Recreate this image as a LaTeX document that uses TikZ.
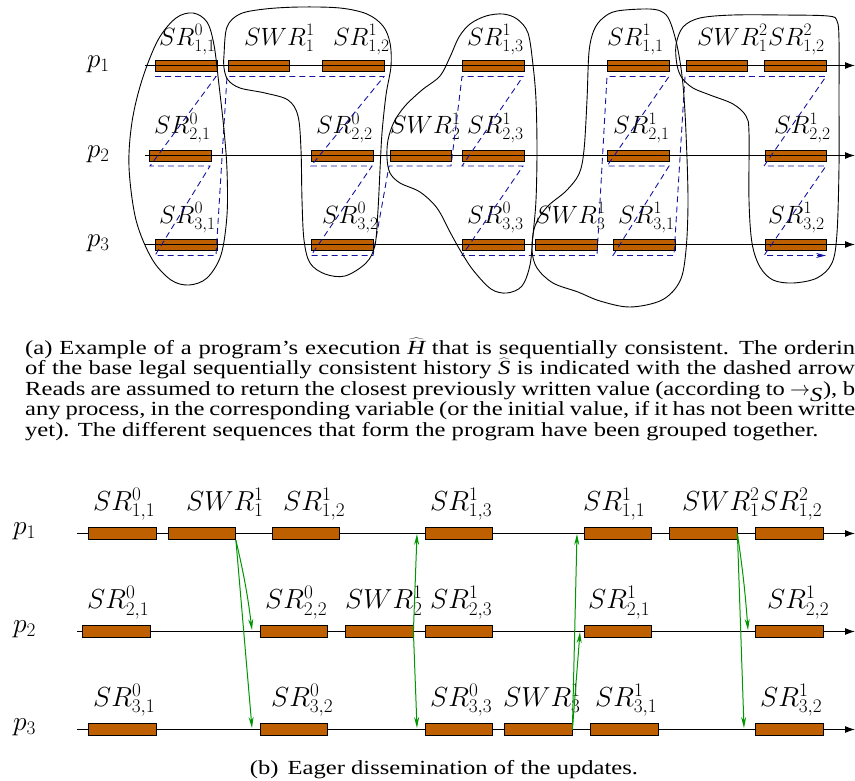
\RequirePackage{fix-cm}
\documentclass[tikz,border=0pt]{standalone}
\usepackage[no-math]{fontspec}
\setmainfont[FakeStretch=1.23]{Liberation Serif}
\usetikzlibrary{arrows.meta}
\definecolor{boxfill}{RGB}{191,96,0}
\definecolor{ordblue}{RGB}{20,20,160}
\definecolor{msggreen}{RGB}{0,150,0}
\begin{document}
\begin{tikzpicture}[x=1pt,y=-1pt,
  opbox/.style={draw=black, fill=boxfill, line width=0.9pt, inner sep=0pt, anchor=west, minimum height=11pt, minimum width=61.5pt},
  opboxb/.style={opbox, minimum height=12.5pt, minimum width=67.5pt},
  timeline/.style={line width=1.1pt, -{Latex[length=10pt,width=7pt]}},
  lbla/.style={anchor=base west, inner sep=0pt, font=\fontsize{25}{30}\selectfont},
  lblb/.style={anchor=base west, inner sep=0pt, font=\fontsize{27.5}{33}\selectfont},
  procl/.style={anchor=base west, inner sep=0pt, font=\fontsize{27}{32}\selectfont},
  order/.style={draw=ordblue, line width=0.9pt, dash pattern=on 6pt off 4pt, -{Stealth[length=10pt,width=5pt]}},
  blob/.style={draw=black, line width=0.9pt},
  msg/.style={draw=msggreen, line width=1pt, -{Stealth[length=11pt,width=5pt]}},
  capt/.style={anchor=base west, inner sep=0pt, font=\fontsize{20}{20.5}\selectfont}
]
\useasboundingbox (0,0) rectangle (855,780);

% ================= (a) =================
% boxes p1
\node[opbox] (a-1-1) at (155,65.5) {};
\node[opbox] (a-1-2) at (227.5,65.5) {};
\node[opbox] (a-1-3) at (322,65.5) {};
\node[opbox] (a-1-4) at (462,65.5) {};
\node[opbox] (a-1-5) at (607,65.5) {};
\node[opbox] (a-1-6) at (685.5,65.5) {};
\node[opbox] (a-1-7) at (764,65.5) {};
% boxes p2
\node[opbox] (a-2-1) at (149.3,155.5) {};
\node[opbox] (a-2-2) at (311,155.5) {};
\node[opbox] (a-2-3) at (389.5,155.5) {};
\node[opbox] (a-2-4) at (462,155.5) {};
\node[opbox] (a-2-5) at (607,155.5) {};
\node[opbox] (a-2-6) at (764.5,155.5) {};
% boxes p3
\node[opbox] (a-3-1) at (155,244.5) {};
\node[opbox] (a-3-2) at (311,244.5) {};
\node[opbox] (a-3-3) at (462,244.5) {};
\node[opbox] (a-3-4) at (535,244.5) {};
\node[opbox] (a-3-5) at (613,244.5) {};
\node[opbox] (a-3-6) at (764.5,244.5) {};

% timelines (drawn over the boxes)
\coordinate (ap1s) at (145,65.5); \coordinate (ap1e) at (855,65.5);
\coordinate (ap2s) at (145,155.5); \coordinate (ap2e) at (855,155.5);
\coordinate (ap3s) at (145,244.5); \coordinate (ap3e) at (855,244.5);
\draw[timeline] (ap1s) -- (ap1e);
\draw[timeline] (ap2s) -- (ap2e);
\draw[timeline] (ap3s) -- (ap3e);

% process labels
\node[procl] (ap1) at (87,67) {$p_1$};
\node[procl] (ap2) at (87,157) {$p_2$};
\node[procl] (ap3) at (87,246.5) {$p_3$};

% operation labels
\node[lbla] (la-1-1) at (159,45) {$SR^0_{1,1}$};
\node[lbla] (la-1-2) at (244,45) {$SWR^1_1$};
\node[lbla] (la-1-3) at (333,45) {$SR^1_{1,2}$};
\node[lbla] (la-1-4) at (467,45) {$SR^1_{1,3}$};
\node[lbla] (la-1-5) at (607,45) {$SR^1_{1,1}$};
\node[lbla] (la-1-6) at (697,45) {$SWR^2_1$};
\node[lbla] (la-1-7) at (768,45) {$SR^2_{1,2}$};
\node[lbla] (la-2-1) at (154,133.5) {$SR^0_{2,1}$};
\node[lbla] (la-2-2) at (316,133.5) {$SR^0_{2,2}$};
\node[lbla] (la-2-3) at (390,133.5) {$SWR^1_2$};
\node[lbla] (la-2-4) at (467,133.5) {$SR^1_{2,3}$};
\node[lbla] (la-2-5) at (613,133.5) {$SR^1_{2,1}$};
\node[lbla] (la-2-6) at (774,133.5) {$SR^1_{2,2}$};
\node[lbla] (la-3-1) at (159,223) {$SR^0_{3,1}$};
\node[lbla] (la-3-2) at (322,223) {$SR^0_{3,2}$};
\node[lbla] (la-3-3) at (467,223) {$SR^0_{3,3}$};
\node[lbla] (la-3-4) at (535,223) {$SWR^1_3$};
\node[lbla] (la-3-5) at (618,223) {$SR^1_{3,1}$};
\node[lbla] (la-3-6) at (768,223) {$SR^1_{3,2}$};

% ordering of the sequential history (dashed arrow)
\draw[order] (155,76.5) -- (216,76.5) -- (150,166) -- (210,166) -- (155,255.5) -- (216,255.5)
  -- (227,76.5) -- (384,76.5) -- (311,166) -- (372,166) -- (311,255.5) -- (373,255.5)
  -- (389,166) -- (451,166) -- (462,76.5) -- (523,76.5) -- (462,166) -- (523,166)
  -- (462,255.5) -- (597,255.5) -- (607,76.5) -- (669,76.5) -- (607,166) -- (669,166)
  -- (613,255.5) -- (674,255.5) -- (685,76.5) -- (826,76.5) -- (764,166) -- (826,166)
  -- (764,255.5) -- (826,255.5);

% groups
\draw[blob] plot[smooth cycle, tension=0.55] coordinates {(193,13) (207,22) (214,45) (219,85) (224,130) (227,170) (227,215) (221,255) (207,278) (189,285) (171,280) (152,259) (136,220) (129,167) (132,122) (142,80) (158,40) (176,18)};
\draw[blob] plot[smooth cycle, tension=0.55] coordinates {(224,55) (227,27) (240,14) (265,9) (300,7) (340,8) (367,14) (383,26) (390,43) (391,66) (386,95) (382,133) (380,170) (378,210) (375,245) (366,263) (345,276) (325,274) (310,263) (304,240) (302,200) (301,150) (298,116) (288,100) (265,93) (240,88) (228,80) (224,68)};
\draw[blob] plot[smooth cycle, tension=0.55] coordinates {(503,14) (517,19) (528,33) (533,65) (536,100) (537,150) (536,200) (533,235) (530,265) (522,286) (507,293) (491,289) (473,270) (460,250) (450,232) (437,208) (420,192) (400,183) (390,173) (387,158) (388,140) (394,122) (405,106) (422,90) (440,76) (450,57) (459,37) (470,24) (486,16)};
\draw[blob] plot[smooth cycle, tension=0.55] coordinates {(617,11) (650,9) (664,13) (671,24) (678,50) (683,85) (686,133) (688,200) (686,250) (680,281) (662,300) (630,307) (600,301) (578,292) (553,283) (537,268) (532,250) (535,226) (547,207) (566,191) (579,174) (584,150) (587,100) (589,52) (594,30) (603,18)};
\draw[blob] plot[smooth cycle, tension=0.55] coordinates {(676,45) (683,27) (700,18) (733,15) (783,15) (828,16) (837,21) (839,40) (839,100) (839,167) (837,233) (832,263) (817,278) (793,283) (773,280) (760,267) (752,243) (749,200) (749,133) (746,116) (733,104) (710,95) (693,88) (682,78) (677,65)};

% caption (a)
\node[capt] (capa) at (25,354) {\vtop{\baselineskip=20.5pt\lineskiplimit=-100pt\lineskip=0pt
\hbox to 830pt{(a) Example of a program's execution $\widehat{\textit{H}}$ that is sequentially consistent. The orderin}
\hbox to 830pt{of the base legal sequentially consistent history $\widehat{\textit{S}}$ is indicated with the dashed arrow}
\hbox to 830pt{Reads are assumed to return the closest previously written value (according to $\rightarrow_{\textit{S}}$), b}
\hbox to 830pt{any process, in the corresponding variable (or the initial value, if it has not been writte}
\hbox{yet). The different sequences that form the program have been grouped together.}}};

% ================= (b) =================
\coordinate (bp1s) at (77,533.5); \coordinate (bp1e) at (855,533.5);
\coordinate (bp2s) at (77,631.5); \coordinate (bp2e) at (855,631.5);
\coordinate (bp3s) at (77,729.5); \coordinate (bp3e) at (855,729.5);
\draw[timeline] (bp1s) -- (bp1e);
\draw[timeline] (bp2s) -- (bp2e);
\draw[timeline] (bp3s) -- (bp3e);

\node[opboxb] (b-1-1) at (88,533.5) {};
\node[opboxb] (b-1-2) at (167.5,533.5) {};
\node[opboxb] (b-1-3) at (271.5,533.5) {};
\node[opboxb] (b-1-4) at (424.5,533.5) {};
\node[opboxb] (b-1-5) at (583.5,533.5) {};
\node[opboxb] (b-1-6) at (669,533.5) {};
\node[opboxb] (b-1-7) at (755,533.5) {};
\node[opboxb] (b-2-1) at (82,631.5) {};
\node[opboxb] (b-2-2) at (259.5,631.5) {};
\node[opboxb] (b-2-3) at (345,631.5) {};
\node[opboxb] (b-2-4) at (424.5,631.5) {};
\node[opboxb] (b-2-5) at (583.5,631.5) {};
\node[opboxb] (b-2-6) at (755,631.5) {};
\node[opboxb] (b-3-1) at (88,729.5) {};
\node[opboxb] (b-3-2) at (259.5,729.5) {};
\node[opboxb] (b-3-3) at (424.5,729.5) {};
\node[opboxb] (b-3-4) at (504,729.5) {};
\node[opboxb] (b-3-5) at (590,729.5) {};
\node[opboxb] (b-3-6) at (755,729.5) {};

\node[lblb] (bp1) at (13,534) {$p_1$};
\node[lblb] (bp2) at (13,632) {$p_2$};
\node[lblb] (bp3) at (13,730) {$p_3$};

\node[lblb] (lb-1-1) at (93,510) {$SR^0_{1,1}$};
\node[lblb] (lb-1-2) at (186,510) {$SWR^1_1$};
\node[lblb] (lb-1-3) at (283,510) {$SR^1_{1,2}$};
\node[lblb] (lb-1-4) at (430,510) {$SR^1_{1,3}$};
\node[lblb] (lb-1-5) at (583,510) {$SR^1_{1,1}$};
\node[lblb] (lb-1-6) at (682,510) {$SWR^2_1$};
\node[lblb] (lb-1-7) at (760,510) {$SR^2_{1,2}$};
\node[lblb] (lb-2-1) at (87,608.5) {$SR^0_{2,1}$};
\node[lblb] (lb-2-2) at (265,608.5) {$SR^0_{2,2}$};
\node[lblb] (lb-2-3) at (345,608.5) {$SWR^1_2$};
\node[lblb] (lb-2-4) at (430,608.5) {$SR^1_{2,3}$};
\node[lblb] (lb-2-5) at (588,608.5) {$SR^1_{2,1}$};
\node[lblb] (lb-2-6) at (767,608.5) {$SR^1_{2,2}$};
\node[lblb] (lb-3-1) at (93,706) {$SR^0_{3,1}$};
\node[lblb] (lb-3-2) at (271,706) {$SR^0_{3,2}$};
\node[lblb] (lb-3-3) at (430,706) {$SR^0_{3,3}$};
\node[lblb] (lb-3-4) at (503,706) {$SWR^1_3$};
\node[lblb] (lb-3-5) at (595,706) {$SR^1_{3,1}$};
\node[lblb] (lb-3-6) at (760,706) {$SR^1_{3,2}$};

% update messages
\coordinate (g1a) at (252,630); \coordinate (g1b) at (252,728);
\coordinate (g2a) at (417,534); \coordinate (g2b) at (417,728);
\coordinate (g3a) at (577,534); \coordinate (g3b) at (580,632);
\coordinate (g4a) at (748,630); \coordinate (g4b) at (744,728);
\draw[msg] (b-1-2.south east) to[bend left=3] (g1a);
\draw[msg] (b-1-2.south east) -- (g1b);
\draw[msg] (b-2-3.east) -- (g2a);
\draw[msg] (b-2-3.east) -- (g2b);
\draw[msg] (b-3-4.east) -- (g3a);
\draw[msg] (b-3-4.east) -- (g3b);
\draw[msg] (b-1-6.east) to[bend left=2] (g4a);
\draw[msg] (b-1-6.east) -- (g4b);

% caption (b)
\node[anchor=base, inner sep=0pt, font=\fontsize{20}{20.5}\selectfont] (capb) at (444,774) {(b)\hspace{0.45em}Eager dissemination of the updates.};
\end{tikzpicture}
\end{document}
